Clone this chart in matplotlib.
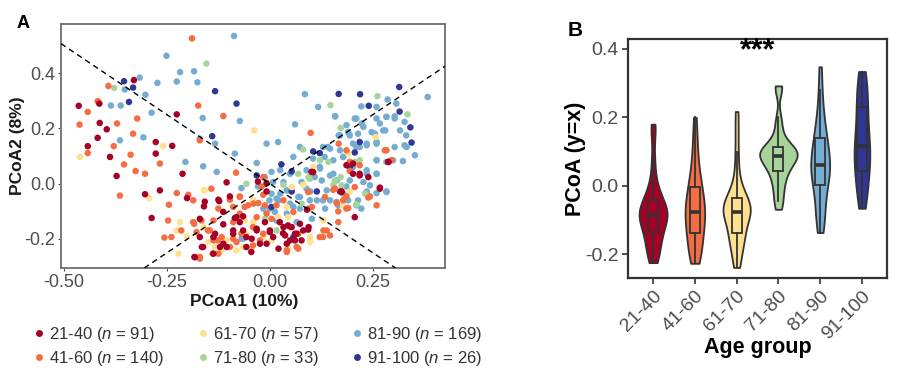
#!/usr/bin/env python3
# -*- coding: utf-8 -*-
import matplotlib
matplotlib.use("Agg")
import matplotlib.pyplot as plt
from matplotlib.lines import Line2D
import numpy as np

plt.rcParams['font.family'] = ['Liberation Sans', 'DejaVu Sans']
plt.rcParams['axes.unicode_minus'] = False
plt.rcParams['mathtext.fontset'] = 'custom'
plt.rcParams['mathtext.it'] = 'Liberation Sans:italic'
plt.rcParams['mathtext.rm'] = 'Liberation Sans'

groups = ['21-40', '41-60', '61-70', '71-80', '81-90', '91-100']
group_n = [91, 140, 57, 33, 169, 26]
colors = ['#A50026', '#F46D43', '#FEE090', '#A6D49A', '#74ADD1', '#313695']

# panel A: PCoA coordinates (x, y)
pts_21_40 = [(-0.464, 0.282), (-0.414, 0.290), (-0.330, 0.375), (-0.226, 0.251), (-0.442, 0.136),
             (-0.418, 0.166), (-0.413, 0.220), (-0.396, 0.197), (-0.388, 0.097), (-0.372, 0.028),
             (-0.277, 0.151), (-0.277, 0.109), (-0.303, -0.038), (-0.287, -0.124), (-0.267, -0.024),
             (-0.212, 0.036), (-0.237, 0.137), (-0.105, 0.005), (-0.201, -0.052), (-0.170, -0.127),
             (-0.158, -0.065), (-0.125, -0.058), (-0.113, -0.102), (-0.085, -0.124), (-0.133, -0.181),
             (-0.121, -0.229), (-0.105, -0.229), (-0.165, -0.229), (-0.183, -0.265), (-0.137, -0.253),
             (-0.089, -0.181), (-0.065, -0.169), (-0.057, -0.193), (-0.032, -0.169), (-0.057, -0.229),
             (-0.045, -0.247), (-0.024, -0.217), (0.000, -0.169), (0.008, -0.193), (-0.008, -0.217),
             (0.021, -0.235), (0.033, -0.157), (0.037, -0.187), (0.053, -0.157), (0.061, -0.181),
             (0.073, -0.145), (0.081, -0.169), (0.094, -0.157), (0.077, -0.205), (0.061, -0.205),
             (0.041, -0.217), (0.090, -0.094), (-0.029, 0.008), (-0.008, 0.002), (-0.008, -0.028),
             (0.101, 0.043), (0.174, -0.028), (0.202, 0.036), (0.218, 0.036), (0.239, 0.024),
             (0.267, -0.014), (0.186, 0.067), (0.288, 0.079), (0.206, -0.121), (-0.137, -0.193),
             (-0.097, -0.046), (-0.073, -0.139), (-0.170, -0.193),
             (-0.160, -0.082), (-0.123, -0.063), (-0.113, -0.147), (-0.081, -0.121), (-0.065, -0.118),
             (-0.089, -0.169), (-0.032, -0.163), (-0.044, -0.199), (0.000, -0.175), (0.032, -0.179),
             (0.044, -0.151), (0.065, -0.181), (0.093, -0.166), (0.049, -0.205), (-0.162, -0.229),
             (-0.182, -0.266), (-0.113, -0.217), (0.024, -0.139), (-0.012, -0.139), (0.202, 0.073),
             (0.218, 0.030), (0.267, -0.018), (0.287, 0.079), (0.105, 0.042), (0.174, -0.030)]
pts_41_60 = [(-0.189, 0.526), (-0.392, 0.354), (-0.418, 0.299), (-0.442, 0.260), (-0.462, 0.214),
             (-0.371, 0.218), (-0.322, 0.236), (-0.174, 0.283), (-0.113, 0.245), (-0.332, 0.181),
             (-0.170, 0.157), (0.099, 0.184), (-0.442, 0.111), (-0.379, 0.136), (-0.338, 0.105),
             (-0.354, 0.070), (-0.326, 0.046), (-0.303, 0.036), (-0.267, 0.073), (-0.364, -0.043),
             (-0.082, 0.040), (-0.016, 0.024), (0.167, 0.145), (0.283, 0.121), (0.295, 0.085),
             (0.194, 0.046), (0.218, 0.067), (0.154, -0.022), (0.174, -0.028), (0.186, -0.046),
             (0.243, -0.046), (0.162, -0.070), (0.166, -0.100), (0.190, -0.088), (0.166, -0.139),
             (0.102, -0.084), (0.130, -0.169), (0.146, -0.187), (0.121, -0.193), (-0.245, -0.076),
             (-0.226, -0.034), (-0.247, -0.133), (-0.256, -0.195), (-0.239, -0.193), (-0.215, -0.169),
             (-0.198, -0.040), (-0.186, -0.139), (-0.178, -0.175), (-0.170, -0.265), (-0.150, -0.169),
             (-0.137, -0.133), (-0.125, -0.090), (-0.117, -0.193), (-0.097, -0.058), (-0.089, -0.139),
             (-0.073, -0.046), (-0.073, -0.108), (-0.053, -0.078), (-0.041, -0.157), (-0.028, -0.070),
             (-0.016, -0.040), (-0.008, -0.108), (0.016, -0.078), (0.004, -0.127), (-0.016, -0.181),
             (0.041, -0.241), (0.065, -0.229), (0.069, -0.181), (0.049, -0.157), (-0.125, -0.253),
             (-0.097, -0.229), (-0.089, -0.199), (-0.041, -0.223), (-0.020, -0.010), (0.033, -0.060),
             (0.057, -0.102), (-0.137, -0.205),
             (-0.186, -0.060), (-0.166, -0.133), (-0.146, -0.169), (-0.126, -0.205), (-0.081, -0.211),
             (-0.069, -0.181), (-0.061, -0.084), (-0.040, -0.072), (-0.073, -0.048), (-0.089, -0.084),
             (-0.032, -0.121), (-0.024, -0.205), (-0.012, -0.078), (0.041, -0.247), (0.069, -0.235),
             (0.138, -0.169), (0.129, -0.193), (-0.184, -0.145), (-0.139, -0.253), (-0.170, -0.271),
             (-0.142, -0.018), (0.279, 0.121), (0.186, 0.121), (0.194, 0.079), (0.158, -0.018),
             (0.206, -0.012), (0.239, -0.050), (0.178, -0.060), (0.093, -0.030), (0.134, -0.048),
             (0.186, -0.090), (0.259, -0.078)]
pts_61_70 = [(-0.038, 0.193), (-0.461, 0.097), (-0.259, 0.137), (0.257, 0.169), (-0.293, -0.052),
             (-0.222, -0.253), (-0.218, -0.139), (-0.226, -0.169), (-0.160, -0.022), (-0.161, -0.157),
             (-0.202, -0.191), (-0.089, -0.084), (-0.061, -0.133), (-0.041, -0.058), (0.004, -0.205),
             (-0.016, -0.193), (-0.057, -0.181), (-0.105, -0.205), (0.041, -0.084), (0.033, -0.181),
             (0.098, -0.193), (0.098, -0.211), (0.045, -0.235), (-0.081, -0.241), (-0.045, -0.235),
             (-0.133, -0.229), (0.105, 0.061), (0.190, 0.109), (0.081, -0.004), (0.194, -0.028),
             (0.178, -0.078), (0.130, -0.133),
             (-0.158, -0.024), (-0.150, -0.211), (-0.117, -0.241), (-0.065, -0.229), (-0.040, -0.139),
             (0.053, -0.012), (0.044, -0.121), (0.020, -0.121)]
pts_71_80 = [(-0.154, 0.435), (-0.378, 0.347), (0.261, 0.317), (0.147, 0.284), (0.334, 0.251),
             (0.172, 0.202), (0.069, 0.036), (-0.057, 0.000), (0.122, 0.085), (0.142, 0.079),
             (0.172, 0.024), (0.206, 0.079), (0.210, -0.075), (0.077, -0.072), (-0.012, -0.127),
             (0.033, -0.004), (0.094, 0.024), (0.154, -0.004), (0.016, -0.169),
             (0.081, 0.124), (0.158, 0.012), (0.174, -0.006), (0.097, 0.018), (0.231, -0.036),
             (0.218, 0.085)]
pts_81_90 = [(-0.087, 0.535), (-0.251, 0.463), (-0.218, 0.404), (-0.184, 0.407), (-0.176, 0.367),
             (-0.226, 0.370), (-0.273, 0.365), (-0.316, 0.384), (-0.302, 0.322), (-0.352, 0.341),
             (-0.386, 0.283), (-0.362, 0.283), (-0.287, 0.257), (-0.163, 0.238), (-0.073, 0.227),
             (-0.364, 0.157), (-0.307, 0.168), (-0.170, 0.163), (-0.133, 0.145), (-0.085, 0.109),
             (-0.205, 0.079), (-0.162, 0.063), (-0.129, 0.043), (-0.032, 0.075), (-0.008, 0.145),
             (0.020, 0.151), (0.061, 0.215), (0.085, 0.324), (0.117, 0.278), (0.159, 0.244),
             (0.167, 0.175), (0.057, 0.097), (0.073, 0.133), (0.105, 0.091), (0.141, 0.133),
             (0.133, 0.097), (0.206, 0.236), (0.222, 0.280), (0.259, 0.278), (0.286, 0.305),
             (0.307, 0.290), (0.383, 0.314), (0.259, 0.236), (0.283, 0.242), (0.303, 0.244),
             (0.327, 0.224), (0.227, 0.206), (0.255, 0.181), (0.280, 0.193), (0.331, 0.175),
             (0.303, 0.133), (0.327, 0.139), (0.235, 0.145), (0.259, 0.145), (0.190, 0.187),
             (0.202, 0.145), (0.218, 0.133), (0.323, 0.082), (0.259, 0.085), (0.283, 0.079),
             (0.235, 0.049), (0.259, 0.036), (0.283, -0.028), (0.259, -0.034), (0.235, -0.028),
             (0.202, 0.061), (0.178, 0.097), (0.154, 0.085), (0.122, 0.055), (0.146, 0.030),
             (0.126, 0.012), (0.162, 0.012), (0.101, 0.024), (0.077, 0.006), (0.049, 0.036),
             (0.025, 0.049), (0.004, 0.043), (-0.012, 0.024), (0.008, 0.006), (0.033, 0.006),
             (0.049, -0.024), (0.025, -0.036), (0.004, -0.036), (0.021, -0.060), (0.049, -0.072),
             (0.069, -0.048), (0.098, -0.028), (0.114, -0.060), (0.094, -0.090), (0.073, -0.090),
             (0.102, -0.127), (0.134, -0.090), (0.166, -0.078), (0.190, -0.060), (0.214, -0.060),
             (0.222, -0.090), (0.186, -0.010), (0.146, -0.060), (-0.001, -0.060), (-0.016, -0.090),
             (-0.069, -0.016), (-0.029, -0.010), (0.012, -0.102), (0.041, -0.108), (0.065, -0.139),
             (-0.069, -0.199), (0.089, 0.049),
             (0.016, -0.054), (0.000, -0.090), (0.041, -0.024), (0.073, -0.048), (0.097, -0.060),
             (0.129, -0.060), (0.016, -0.133), (-0.065, -0.199), (0.089, -0.018), (0.057, -0.084),
             (0.158, 0.244), (0.210, 0.236), (0.223, 0.218), (0.267, 0.218), (0.283, 0.242),
             (0.303, 0.236), (0.275, 0.193), (0.316, 0.193), (0.247, 0.187), (0.194, 0.175),
             (0.170, 0.175), (0.214, 0.181), (0.146, 0.127), (0.170, 0.121), (0.210, 0.133),
             (0.235, 0.139), (0.259, 0.085), (0.299, 0.085), (0.332, 0.133), (0.352, 0.103),
             (0.235, 0.036), (0.259, 0.036), (0.243, -0.006), (0.283, -0.030), (0.178, 0.097),
             (0.154, 0.036), (0.121, 0.061), (0.109, 0.024), (0.138, -0.024), (0.178, -0.036),
             (0.194, 0.012), (0.227, 0.006), (0.162, -0.066), (0.210, -0.078), (0.129, 0.133),
             (0.186, 0.212), (0.259, 0.151)]
pts_91_100 = [(-0.354, 0.371), (-0.332, 0.348), (-0.342, 0.296), (-0.133, 0.335), (-0.081, 0.290),
              (-0.140, 0.172), (0.167, 0.325), (0.219, 0.324), (0.314, 0.350), (0.240, 0.282),
              (0.315, 0.261), (0.341, 0.204), (0.344, 0.149), (0.105, 0.117), (0.121, 0.111),
              (0.028, 0.070), (0.053, 0.045), (0.218, 0.151), (0.194, 0.061), (0.206, 0.113),
              (0.114, -0.028), (0.053, -0.028), (0.170, -0.028), (-0.032, 0.030), (0.057, -0.193),
              (0.004, -0.084)]

# panel B: projection values per age group
proj_21_40 = [-0.225, -0.212, -0.198, -0.185, -0.172, -0.16, -0.149, -0.139, -0.13, -0.121,
              -0.113, -0.105, -0.098, -0.093, -0.089, -0.085, -0.08, -0.074, -0.068, -0.062,
              -0.056, -0.049, -0.04, -0.03, -0.017, 0.0, 0.03, 0.08, 0.15, 0.18]
proj_41_60 = [-0.227, -0.215, -0.20, -0.19, -0.18, -0.17, -0.155, -0.14, -0.13, -0.12,
              -0.11, -0.10, -0.09, -0.083, -0.078, -0.074, -0.065, -0.055, -0.045, -0.035,
              -0.02, -0.01, 0.0, 0.01, 0.03, 0.05, 0.08, 0.11, 0.15, 0.20]
proj_61_70 = [-0.239, -0.22, -0.20, -0.18, -0.165, -0.155, -0.148, -0.14, -0.13, -0.115,
              -0.10, -0.092, -0.085, -0.08, -0.078, -0.076, -0.072, -0.066, -0.06, -0.052,
              -0.045, -0.04, -0.035, -0.025, -0.01, 0.01, 0.05, 0.10, 0.16, 0.217]
proj_71_80 = [-0.069, -0.045, -0.025, -0.005, 0.012, 0.026, 0.038, 0.05, 0.057, 0.064,
              0.071, 0.077, 0.082, 0.087, 0.091, 0.095, 0.099, 0.103, 0.106, 0.11,
              0.116, 0.126, 0.145, 0.17, 0.2, 0.28, 0.292]
proj_81_90 = [-0.137, -0.115, -0.095, -0.075, -0.055, -0.035, -0.005, 0.01, 0.012, 0.024,
              0.036, 0.046, 0.055, 0.062, 0.07, 0.08, 0.09, 0.1, 0.112, 0.132,
              0.146, 0.155, 0.175, 0.2, 0.235, 0.28, 0.348]
proj_91_100 = [-0.066, -0.05, -0.03, -0.01, 0.01, 0.03, 0.04, 0.05, 0.065, 0.08, 0.095,
               0.105, 0.112, 0.12, 0.135, 0.15, 0.17, 0.19, 0.215, 0.235, 0.24, 0.26,
               0.28, 0.305, 0.325, 0.334]

pts_all = [pts_21_40, pts_41_60, pts_61_70, pts_71_80, pts_81_90, pts_91_100]
proj_all = [proj_21_40, proj_41_60, proj_61_70, proj_71_80, proj_81_90, proj_91_100]


def kde_trimmed(vals, npts=256):
    # gaussian kde with R's nrd0 bandwidth, trimmed to data range (ggplot default)
    v = np.asarray(vals, dtype=float)
    sd = v.std(ddof=1)
    q75, q25 = np.percentile(v, [75, 25])
    bw = 0.9 * min(sd, (q75 - q25) / 1.34) * len(v) ** -0.2
    grid = np.linspace(v.min(), v.max(), npts)
    z = (grid[:, None] - v[None, :]) / bw
    dens = np.exp(-0.5 * z ** 2).sum(axis=1) / (len(v) * bw * np.sqrt(2 * np.pi))
    return grid, dens


fig = plt.figure(figsize=(9.09, 3.76), dpi=100)
axA = fig.add_axes([0.0671, 0.2872, 0.4224, 0.6489])
axB = fig.add_axes([0.6909, 0.2606, 0.2849, 0.6356])

# ---- panel A
for i in [4, 5, 3, 2, 1, 0]:
    xy = np.array(pts_all[i])
    axA.scatter(xy[:, 0], xy[:, 1], s=22, color=colors[i], edgecolors='none', zorder=2)
axA.axline((0, 0), slope=1, color='black', ls=(0, (4, 3)), lw=1.0, zorder=3)
axA.axline((0, 0), slope=-1, color='black', ls=(0, (4, 3)), lw=1.0, zorder=3)
axA.set_xlim(-0.507, 0.425)
axA.set_ylim(-0.305, 0.578)
axA.set_xticks([-0.5, -0.25, 0.0, 0.25])
axA.set_xticklabels(['-0.50', '-0.25', '0.00', '0.25'])
axA.set_yticks([-0.2, 0.0, 0.2, 0.4])
axA.set_yticklabels(['-0.2', '0.0', '0.2', '0.4'])
axA.tick_params(labelsize=13, colors='#4d4d4d', length=2, width=0.8, pad=2)
for sp in axA.spines.values():
    sp.set_color('#6e6e6e')
    sp.set_linewidth(1.3)
axA.set_xlabel('PCoA1 (10%)', fontsize=12.5, fontweight='bold', color='#1a1a1a', labelpad=4)
axA.xaxis.set_label_coords(0.478, -0.105)
axA.set_ylabel('PCoA2 (8%)', fontsize=12.5, fontweight='bold', color='#1a1a1a', labelpad=0)
fig.text(0.018, 0.925, 'A', fontsize=13, fontweight='bold')

# legend: three columns placed at their own positions
col_x = [34 / 909, 198 / 909, 352 / 909]
for k in range(3):
    hs = []
    for i in (2 * k, 2 * k + 1):
        hs.append(Line2D([], [], ls='none', marker='o', ms=5, mfc=colors[i], mec='none',
                         label=f'{groups[i]} ($n$ = {group_n[i]})'))
    leg = fig.legend(handles=hs, loc='upper left', bbox_to_anchor=(col_x[k], 0.135),
                     frameon=False, fontsize=12, handlelength=0.6, handletextpad=0.3,
                     labelspacing=0.3, borderaxespad=0, borderpad=0)
    for t in leg.get_texts():
        t.set_color('#333333')

# ---- panel B
kdes = [kde_trimmed(v) for v in proj_all]
dmax = max(d.max() for _, d in kdes)
for i, (grid, dens) in enumerate(kdes):
    hw = dens / dmax * 0.45
    axB.fill_betweenx(grid, i - hw, i + hw, facecolor=colors[i], edgecolor='#333333',
                      lw=1.3, zorder=2)
axB.boxplot(proj_all, positions=range(len(groups)), widths=0.24, whis=1.5,
            showfliers=False, showcaps=False, patch_artist=True,
            boxprops=dict(facecolor='none', edgecolor='#333333', lw=1.3),
            whiskerprops=dict(color='#333333', lw=1.3),
            medianprops=dict(color='#333333', lw=2.6), zorder=3)
axB.set_xlim(-0.6, 5.6)
axB.set_ylim(-0.27, 0.429)
axB.set_yticks([-0.2, 0.0, 0.2, 0.4])
axB.set_yticklabels(['-0.2', '0.0', '0.2', '0.4'])
axB.set_xticks(range(len(groups)))
axB.set_xticklabels(groups, rotation=45, ha='right', rotation_mode='anchor')
axB.tick_params(labelsize=14, colors='#4d4d4d', length=4, width=1.2, pad=3)
axB.tick_params(axis='both', color='#333333')
for sp in axB.spines.values():
    sp.set_color('#333333')
    sp.set_linewidth(1.6)
axB.set_xlabel('Age group', fontsize=15.5, fontweight='bold', color='black', labelpad=-4)
axB.set_ylabel('PCoA (y=x)', fontsize=15.5, fontweight='bold', color='black', labelpad=-1)
axB.text(2.5, 0.392, '***', fontsize=22, fontweight='bold', ha='center', va='center')
fig.text(0.624, 0.905, 'B', fontsize=15, fontweight='bold')

fig.savefig('out.png', dpi=100)
